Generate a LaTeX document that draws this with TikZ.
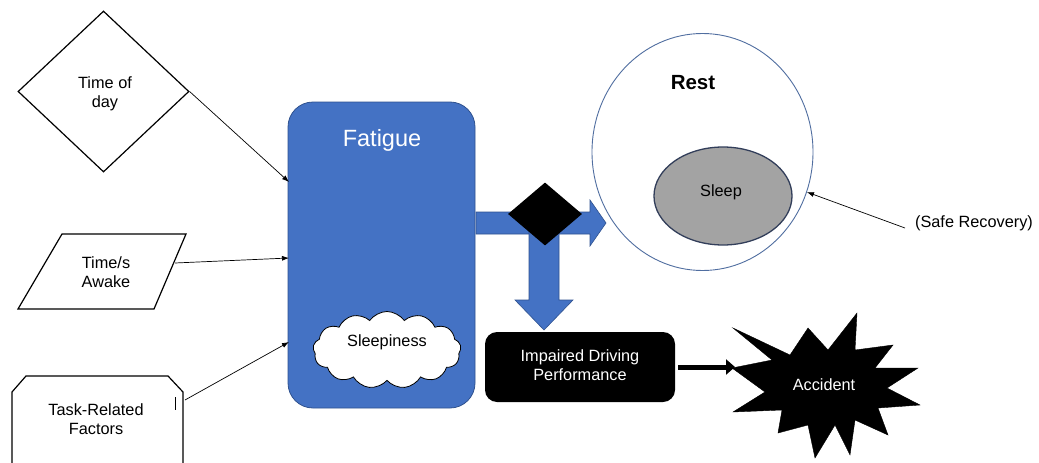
\documentclass[tikz,border=0pt]{standalone}
\usepackage{fontspec}
\setmainfont{Liberation Sans}
\usetikzlibrary{shapes.geometric,shapes.symbols,arrows.meta}
\definecolor{fblue}{RGB}{68,114,196}
\definecolor{fblueline}{RGB}{47,82,143}
\definecolor{restline}{RGB}{80,110,160}
\definecolor{sleepgray}{RGB}{163,163,163}
\definecolor{sleepline}{RGB}{50,62,90}
\tikzset{
  txt/.style={font=\fontsize{16.3}{19}\selectfont, align=center, inner sep=0pt},
  thinarrow/.style={draw=black, line width=0.7pt, -{Latex[length=7pt,width=5pt]}},
  fatarrow/.style={fill=fblue, draw=fblueline, line width=0.6pt},
  outline/.style={draw=black, line width=1.2pt, line join=miter},
}
\begin{document}
\begin{tikzpicture}[x=1pt,y=-1pt]
\useasboundingbox (0,0) rectangle (1039,463);
\fill[white] (0,0) rectangle (1039,463);

% Time of day diamond
\node[diamond, outline, minimum width=171pt, minimum height=161pt, inner sep=0pt] (tod) at (103.5,91.5) {};
\node[txt] (todl) at (105,94) {Time of\\day};

% Time/s Awake parallelogram
\draw[outline] (62,234) -- (186,234) -- (154,309) -- (18,309) -- cycle;
\coordinate (awk) at (175,263);
\node[txt] (awkl) at (106,272) {Time/s\\Awake};

% Task-Related Factors
\draw[outline] (12,466) -- (12,392) -- (26,376) -- (168,376) -- (183,392) -- (183,466);
\draw[line width=1pt] (175,397) -- (175,410);
\coordinate (trf) at (185,400);
\node[txt] (trfl) at (96,419) {Task-Related\\Factors};

% Fatigue box
\node[rectangle, rounded corners=25pt, fill=fblue, draw=fblueline, line width=0.8pt,
      minimum width=187pt, minimum height=306pt, inner sep=0pt] (fat) at (381.5,255) {};
\node[txt, text=white, font=\fontsize{23.5}{28}\selectfont] (fatl) at (382,140) {Fatigue};
\coordinate (in1) at (289,182);
\coordinate (in2) at (289,258);
\coordinate (in3) at (289,342);

\draw[thinarrow] (tod.east) -- (in1);
\draw[thinarrow] (awk) -- (in2);
\draw[thinarrow] (trf) -- (in3);

% Sleepiness cloud
\node[cloud, cloud puffs=13, cloud puff arc=110, aspect=2.2, draw=black, line width=0.8pt, fill=white,
      minimum width=148pt, minimum height=77pt, inner sep=0pt] (cloud) at (387,350) {};
\node[txt] (cloudl) at (387,342) {Sleepiness};

% Fat blue arrows
\draw[fatarrow] (476,212) -- (590,212) -- (590,200) -- (606,223) -- (590,246) -- (590,234) -- (476,234) -- cycle;
\draw[fatarrow] (529,230) -- (559,230) -- (559,300) -- (573,300) -- (544,330) -- (515,300) -- (529,300) -- cycle;
\node[diamond, fill=black, minimum width=74pt, minimum height=63pt, inner sep=0pt] (dec) at (545,214) {};

% Rest circle
\node[ellipse, draw=restline, line width=0.9pt, minimum width=221pt, minimum height=237pt, inner sep=0pt] (rest) at (702.5,152) {};
\node[txt, font=\bfseries\fontsize{20.5}{24}\selectfont] (restl) at (693,83) {Rest};
\node[ellipse, draw=sleepline, fill=sleepgray, line width=1.3pt, minimum width=138pt, minimum height=98pt, inner sep=0pt] (sleep) at (723,196) {};
\node[txt] (sleepl) at (721,192) {Sleep};

% Safe recovery
\node[txt] (safe) at (974,223) {(Safe Recovery)};
\coordinate (safein) at (905,228);
\draw[thinarrow] (safein) -- (rest.-21);

% Impaired driving
\node[rectangle, rounded corners=12pt, fill=black, minimum width=190pt, minimum height=70pt, inner sep=0pt] (imp) at (580,367) {};
\node[txt, text=white] (impl) at (580,365) {Impaired Driving\\Performance};

% Accident star
\draw[fill=black] (733,328) -- (790,355) -- (808,328) -- (828,350) -- (857,313) -- (855,350) -- (893,345) -- (875,368) -- (918,368) -- (887,388) -- (920,405) -- (878,408) -- (888,435) -- (855,420) -- (850,455) -- (835,425) -- (815,458) -- (808,425) -- (778,433) -- (782,410) -- (733,412) -- (765,392) -- (732,368) -- (772,360) -- cycle;
\node[txt, text=white] (acc) at (824,385) {Accident};
\coordinate (accin) at (735,367);
\draw[line width=5pt, -{Triangle[length=9pt,width=15pt]}] (imp.east) ++(3,0) coordinate (impout) (impout) -- (accin);
\end{tikzpicture}
\end{document}
